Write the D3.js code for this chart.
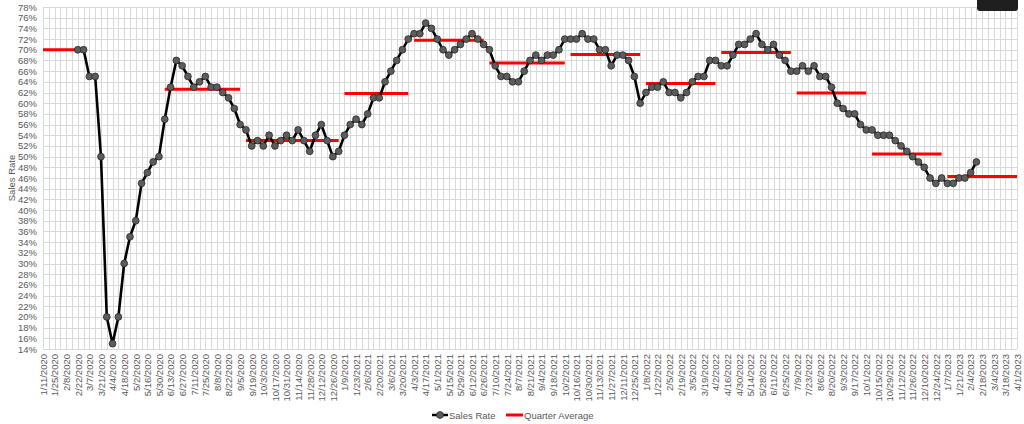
<!DOCTYPE html>
<html>
<head>
<meta charset="utf-8">
<script src="https://cdn.jsdelivr.net/npm/d3@7"></script>
<style>
  body { margin: 0; background: #fff; }
  svg { display: block; font-family: "Liberation Sans", Arial, sans-serif; }
</style>
</head>
<body>
<svg id="chart" width="1024" height="424"></svg>
<script>
// weekly sales rate (%), first reading on 2/22/2020
const salesStart = '2/22/2020';
const salesRate = [
  70, 70, 65, 65, 50, 20, 15, 20, 30, 35,
  38, 45, 47, 49, 50, 57, 63, 68, 67, 65,
  63, 64, 65, 63, 63, 62, 61, 59, 56, 55,
  52, 53, 52, 54, 52, 53, 54, 53, 55, 53,
  51, 54, 56, 53, 50, 51, 54, 56, 57, 56,
  58, 61, 61, 64, 66, 68, 70, 72, 73, 73,
  75, 74, 72, 70, 69, 70, 71, 72, 73, 72,
  71, 70, 67, 65, 65, 64, 64, 66, 68, 69,
  68, 69, 69, 70, 72, 72, 72, 73, 72, 72,
  70, 70, 67, 69, 69, 68, 65, 60, 62, 63,
  63, 64, 62, 62, 61, 62, 64, 65, 65, 68,
  68, 67, 67, 69, 71, 71, 72, 73, 71, 70,
  71, 69, 68, 66, 66, 67, 66, 67, 65, 65,
  63, 60, 59, 58, 58, 56, 55, 55, 54, 54,
  54, 53, 52, 51, 50, 49, 48, 46, 45, 46,
  45, 45, 46, 46, 47, 49
];

// quarter average segments
const quarterStart = ['1/11/2020', '6/6/2020', '9/12/2020', '1/9/2021', '4/3/2021', '7/3/2021',
  '10/9/2021', '1/8/2022', '4/9/2022', '7/9/2022', '10/8/2022', '1/7/2023'];
const quarterEnd = ['2/29/2020', '9/5/2020', '1/2/2021', '3/27/2021', '6/26/2021', '10/2/2021',
  '1/1/2022', '4/2/2022', '7/2/2022', '10/1/2022', '12/31/2022', '4/1/2023'];
const quarterAvg = [70, 62.6, 53, 61.8, 71.8, 67.5, 69.1, 63.7, 69.5, 61.9, 50.5, 46.3];

// axis
const axisStart = '1/11/2020';
const axisEnd = '4/1/2023';
const yTicks = d3.range(14, 79, 2);

const parse = d3.utcParse('%m/%d/%Y');
const fmt = d3.utcFormat('%-m/%-d/%Y');

const svg = d3.select('#chart');
const plotLeft = 43, plotRight = 1017, plotTop = 7, plotBottom = 349;

const x = d3.scaleUtc()
  .domain([parse(axisStart), parse(axisEnd)])
  .range([plotLeft, plotRight]);
const y = d3.scaleLinear().domain([14, 78]).range([plotBottom, plotTop]);

// one gridline per week (Saturdays), a label every other week
const weeks = d3.utcSaturday.range(parse(axisStart), d3.utcDay.offset(parse(axisEnd), 1));
const labelDates = weeks.filter((d, i) => i % 2 === 0);

// gridlines
const grid = svg.append('g').attr('stroke', '#d9d9d9').attr('stroke-width', 1);
grid.selectAll('line.v')
  .data(weeks)
  .enter()
  .append('line')
  .attr('class', 'v')
  .attr('x1', d => Math.round(x(d)) + 0.5)
  .attr('x2', d => Math.round(x(d)) + 0.5)
  .attr('y1', plotTop)
  .attr('y2', plotBottom);
grid.selectAll('line.h')
  .data(yTicks)
  .enter()
  .append('line')
  .attr('class', 'h')
  .attr('x1', plotLeft)
  .attr('x2', plotRight)
  .attr('y1', d => Math.round(y(d)) + 0.5)
  .attr('y2', d => Math.round(y(d)) + 0.5);

// y axis labels
const yAxis = svg.append('g')
  .attr('transform', `translate(${plotLeft},0)`)
  .call(d3.axisLeft(y).tickValues(yTicks).tickSize(0).tickPadding(6).tickFormat(d => d + '%'));
yAxis.select('.domain').remove();
yAxis.selectAll('text').attr('fill', '#595959').attr('font-size', '9.5px');

svg.append('text')
  .attr('transform', 'translate(15,178) rotate(-90)')
  .attr('text-anchor', 'middle')
  .attr('fill', '#595959')
  .attr('font-size', '9.5px')
  .text('Sales Rate');

// x axis labels
const xAxis = svg.append('g')
  .attr('transform', `translate(0,${plotBottom})`)
  .call(d3.axisBottom(x).tickValues(labelDates).tickSize(0).tickFormat(fmt));
xAxis.select('.domain').remove();
xAxis.selectAll('text')
  .attr('fill', '#595959')
  .attr('font-size', '9.5px')
  .attr('text-anchor', 'end')
  .attr('transform', 'rotate(-90)')
  .attr('x', -5)
  .attr('y', 0)
  .attr('dy', '0.35em');

// quarter averages
svg.append('g')
  .selectAll('line')
  .data(quarterAvg)
  .enter()
  .append('line')
  .attr('x1', (d, i) => x(parse(quarterStart[i])))
  .attr('x2', (d, i) => x(parse(quarterEnd[i])))
  .attr('y1', d => y(d))
  .attr('y2', d => y(d))
  .attr('stroke', '#ff0000')
  .attr('stroke-width', 3);

// sales rate
const sales = salesRate.map((v, i) => ({ date: d3.utcDay.offset(parse(salesStart), i * 7), value: v }));
const line = d3.line().x(d => x(d.date)).y(d => y(d.value));
svg.append('path')
  .datum(sales)
  .attr('fill', 'none')
  .attr('stroke', '#000')
  .attr('stroke-width', 2.6)
  .attr('stroke-linejoin', 'round')
  .attr('d', line);
svg.append('g')
  .selectAll('circle')
  .data(sales)
  .enter()
  .append('circle')
  .attr('cx', d => x(d.date))
  .attr('cy', d => y(d.value))
  .attr('r', 3.4)
  .attr('fill', '#5c5c5c')
  .attr('stroke', '#2a2a2a')
  .attr('stroke-width', 0.8);

// legend
const legend = svg.append('g').attr('font-size', '9.5px').attr('fill', '#595959');
legend.append('line')
  .attr('x1', 432).attr('x2', 448).attr('y1', 415).attr('y2', 415)
  .attr('stroke', '#000').attr('stroke-width', 2.5);
legend.append('circle')
  .attr('cx', 440).attr('cy', 415).attr('r', 3.4)
  .attr('fill', '#5c5c5c').attr('stroke', '#2a2a2a').attr('stroke-width', 0.8);
legend.append('text').attr('x', 449).attr('y', 418.5).text('Sales Rate');
legend.append('line')
  .attr('x1', 506).attr('x2', 523).attr('y1', 415).attr('y2', 415)
  .attr('stroke', '#ff0000').attr('stroke-width', 3);
legend.append('text').attr('x', 524).attr('y', 418.5).text('Quarter Average');

// dark tab cut off at the top right
svg.append('rect')
  .attr('x', 977).attr('y', -5).attr('width', 41).attr('height', 16).attr('rx', 3)
  .attr('fill', '#1f1f1f');
</script>
</body>
</html>
